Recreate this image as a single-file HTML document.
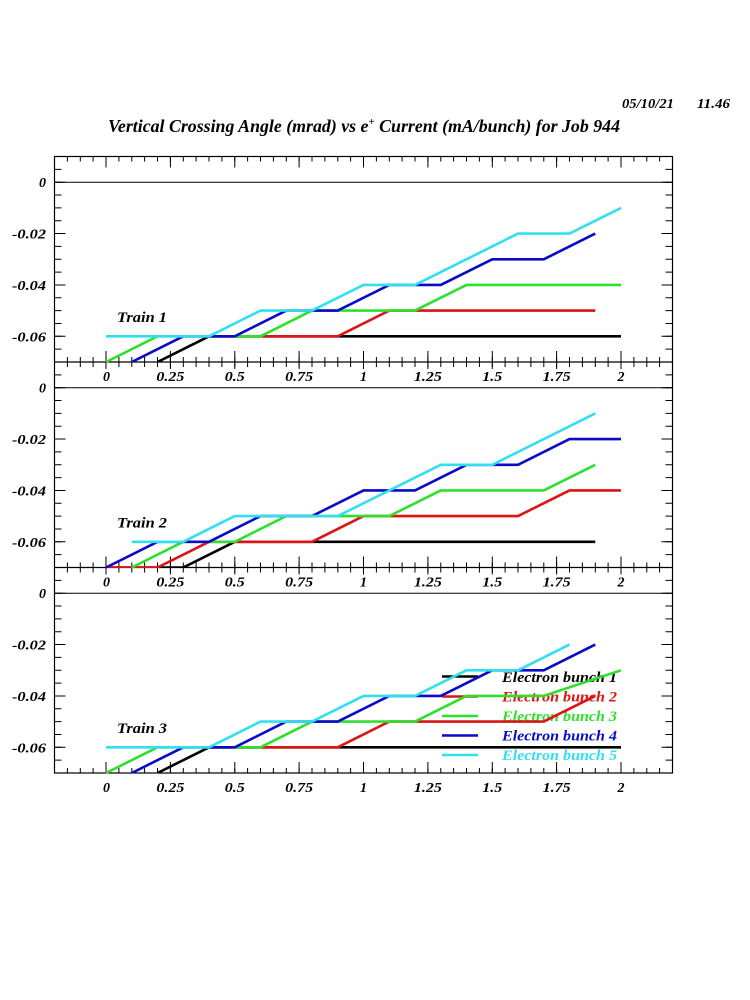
<!DOCTYPE html>
<html>
<head>
<meta charset="utf-8">
<style>
  html,body{margin:0;padding:0;background:#fff;}
  svg{display:block;}
  text{font-family:"Liberation Serif","DejaVu Serif",serif;font-weight:bold;font-style:italic;}
</style>
</head>
<body>
<svg width="750" height="1000" viewBox="0 0 750 1000" xmlns="http://www.w3.org/2000/svg">
<rect x="0" y="0" width="750" height="1000" fill="#fff"/>
<defs>
  <path id="xmin" stroke="#000" stroke-width="1" fill="none" d="M67.4 0V1M80.3 0V1M93.1 0V1M106 0V1M118.9 0V1M131.8 0V1M144.6 0V1M157.5 0V1M170.4 0V1M183.3 0V1M196.1 0V1M209 0V1M221.9 0V1M234.8 0V1M247.6 0V1M260.5 0V1M273.4 0V1M286.3 0V1M299.1 0V1M312 0V1M324.9 0V1M337.8 0V1M350.6 0V1M363.5 0V1M376.4 0V1M389.3 0V1M402.1 0V1M415 0V1M427.9 0V1M440.8 0V1M453.6 0V1M466.5 0V1M479.4 0V1M492.3 0V1M505.1 0V1M518 0V1M530.9 0V1M543.8 0V1M556.6 0V1M569.5 0V1M582.4 0V1M595.3 0V1M608.1 0V1M621 0V1M633.9 0V1M646.8 0V1M659.6 0V1"/>
  <path id="xmaj" stroke="#000" stroke-width="1" fill="none" d="M106 0V1M170.4 0V1M234.8 0V1M299.1 0V1M363.5 0V1M427.9 0V1M492.3 0V1M556.6 0V1M621 0V1"/>
  <path id="ymin" stroke="#000" stroke-width="1" fill="none" d="M0 12.84H1M0 25.69H1M0 38.53H1M0 51.38H1M0 64.22H1M0 77.06H1M0 89.91H1M0 102.75H1M0 115.59H1M0 128.44H1M0 141.28H1M0 154.13H1M0 166.97H1M0 179.81H1M0 192.66H1"/>
  <path id="ymaj" stroke="#000" stroke-width="1" fill="none" d="M0 25.69H1M0 77.06H1M0 128.44H1M0 179.81H1"/>
  <clipPath id="c1"><rect x="54.5" y="156.5" width="618" height="206"/></clipPath>
  <clipPath id="c2"><rect x="54.5" y="362" width="618" height="206"/></clipPath>
  <clipPath id="c3"><rect x="54.5" y="567.5" width="618" height="206"/></clipPath>
</defs>

<!-- header -->
<text x="622" y="108" font-size="14" textLength="52" lengthAdjust="spacingAndGlyphs">05/10/21</text>
<text x="730" y="108" font-size="14" text-anchor="end" textLength="33" lengthAdjust="spacingAndGlyphs">11.46</text>
<text x="108" y="132" font-size="18" textLength="512" lengthAdjust="spacingAndGlyphs">Vertical Crossing Angle (mrad) vs e<tspan dy="-7" font-size="11">+</tspan><tspan dy="7"> Current (mA/bunch) for Job 944</tspan></text>

<!-- frames -->
<rect x="54.5" y="156.5" width="618" height="616.5" fill="none" stroke="#000" stroke-width="1.2"/>
<line x1="54.5" y1="362" x2="672.5" y2="362" stroke="#000" stroke-width="1.2"/>
<line x1="54.5" y1="567.5" x2="672.5" y2="567.5" stroke="#000" stroke-width="1.2"/>

<!-- zero lines -->
<line x1="54.5" y1="182.2" x2="672.5" y2="182.2" stroke="#000" stroke-width="1"/>
<line x1="54.5" y1="387.7" x2="672.5" y2="387.7" stroke="#000" stroke-width="1"/>
<line x1="54.5" y1="593.2" x2="672.5" y2="593.2" stroke="#000" stroke-width="1"/>

<!-- x ticks -->
<use href="#xmin" transform="translate(0,156.5) scale(1,5)"/>
<use href="#xmaj" transform="translate(0,156.5) scale(1,11)"/>
<use href="#xmin" transform="translate(0,357) scale(1,10)"/>
<use href="#xmaj" transform="translate(0,351) scale(1,18)"/>
<use href="#xmin" transform="translate(0,562.5) scale(1,10)"/>
<use href="#xmaj" transform="translate(0,556.5) scale(1,18)"/>
<use href="#xmin" transform="translate(0,768) scale(1,5)"/>
<use href="#xmaj" transform="translate(0,762) scale(1,11)"/>

<!-- y ticks -->
<use href="#ymin" transform="translate(54.5,156.5) scale(7,1)"/>
<use href="#ymaj" transform="translate(54.5,156.5) scale(11,1)"/>
<use href="#ymin" transform="translate(672.5,156.5) scale(-7,1)"/>
<use href="#ymaj" transform="translate(672.5,156.5) scale(-11,1)"/>
<use href="#ymin" transform="translate(54.5,362) scale(7,1)"/>
<use href="#ymaj" transform="translate(54.5,362) scale(11,1)"/>
<use href="#ymin" transform="translate(672.5,362) scale(-7,1)"/>
<use href="#ymaj" transform="translate(672.5,362) scale(-11,1)"/>
<use href="#ymin" transform="translate(54.5,567.5) scale(7,1)"/>
<use href="#ymaj" transform="translate(54.5,567.5) scale(11,1)"/>
<use href="#ymin" transform="translate(672.5,567.5) scale(-7,1)"/>
<use href="#ymaj" transform="translate(672.5,567.5) scale(-11,1)"/>

<!-- y labels -->
<g font-size="14" text-anchor="end">
  <text x="46" y="187.2">0</text>
  <text x="46" y="238.6" textLength="34" lengthAdjust="spacingAndGlyphs">-0.02</text>
  <text x="46" y="289.9" textLength="34" lengthAdjust="spacingAndGlyphs">-0.04</text>
  <text x="46" y="341.3" textLength="34" lengthAdjust="spacingAndGlyphs">-0.06</text>
  <text x="46" y="392.7">0</text>
  <text x="46" y="444.1" textLength="34" lengthAdjust="spacingAndGlyphs">-0.02</text>
  <text x="46" y="495.4" textLength="34" lengthAdjust="spacingAndGlyphs">-0.04</text>
  <text x="46" y="546.8" textLength="34" lengthAdjust="spacingAndGlyphs">-0.06</text>
  <text x="46" y="598.2">0</text>
  <text x="46" y="649.6" textLength="34" lengthAdjust="spacingAndGlyphs">-0.02</text>
  <text x="46" y="700.9" textLength="34" lengthAdjust="spacingAndGlyphs">-0.04</text>
  <text x="46" y="752.3" textLength="34" lengthAdjust="spacingAndGlyphs">-0.06</text>
</g>

<!-- x labels -->
<g font-size="14" text-anchor="middle">
  <text x="106.5" y="381">0</text>
  <text x="170.4" y="381" textLength="28" lengthAdjust="spacingAndGlyphs">0.25</text>
  <text x="234.8" y="381" textLength="20" lengthAdjust="spacingAndGlyphs">0.5</text>
  <text x="299.1" y="381" textLength="28" lengthAdjust="spacingAndGlyphs">0.75</text>
  <text x="363.5" y="381">1</text>
  <text x="427.9" y="381" textLength="28" lengthAdjust="spacingAndGlyphs">1.25</text>
  <text x="492.3" y="381" textLength="20" lengthAdjust="spacingAndGlyphs">1.5</text>
  <text x="556.6" y="381" textLength="28" lengthAdjust="spacingAndGlyphs">1.75</text>
  <text x="621" y="381">2</text>

  <text x="106.5" y="586.5">0</text>
  <text x="170.4" y="586.5" textLength="28" lengthAdjust="spacingAndGlyphs">0.25</text>
  <text x="234.8" y="586.5" textLength="20" lengthAdjust="spacingAndGlyphs">0.5</text>
  <text x="299.1" y="586.5" textLength="28" lengthAdjust="spacingAndGlyphs">0.75</text>
  <text x="363.5" y="586.5">1</text>
  <text x="427.9" y="586.5" textLength="28" lengthAdjust="spacingAndGlyphs">1.25</text>
  <text x="492.3" y="586.5" textLength="20" lengthAdjust="spacingAndGlyphs">1.5</text>
  <text x="556.6" y="586.5" textLength="28" lengthAdjust="spacingAndGlyphs">1.75</text>
  <text x="621" y="586.5">2</text>

  <text x="106.5" y="792">0</text>
  <text x="170.4" y="792" textLength="28" lengthAdjust="spacingAndGlyphs">0.25</text>
  <text x="234.8" y="792" textLength="20" lengthAdjust="spacingAndGlyphs">0.5</text>
  <text x="299.1" y="792" textLength="28" lengthAdjust="spacingAndGlyphs">0.75</text>
  <text x="363.5" y="792">1</text>
  <text x="427.9" y="792" textLength="28" lengthAdjust="spacingAndGlyphs">1.25</text>
  <text x="492.3" y="792" textLength="20" lengthAdjust="spacingAndGlyphs">1.5</text>
  <text x="556.6" y="792" textLength="28" lengthAdjust="spacingAndGlyphs">1.75</text>
  <text x="621" y="792">2</text>
</g>

<!-- train labels -->
<g font-size="15">
  <text x="117" y="322" textLength="50" lengthAdjust="spacingAndGlyphs">Train 1</text>
  <text x="117" y="527.5" textLength="50" lengthAdjust="spacingAndGlyphs">Train 2</text>
  <text x="117" y="733" textLength="50" lengthAdjust="spacingAndGlyphs">Train 3</text>
</g>

<!-- legend -->
<g stroke-width="2.6">
  <line x1="442" y1="676.5" x2="478" y2="676.5" stroke="#000"/>
  <line x1="442" y1="696.5" x2="478" y2="696.5" stroke="#dc1414"/>
  <line x1="442" y1="716" x2="478" y2="716" stroke="#2ee02e"/>
  <line x1="442" y1="735.5" x2="478" y2="735.5" stroke="#0a0ac8"/>
  <line x1="442" y1="755" x2="478" y2="755" stroke="#30e0f0"/>
</g>
<g font-size="15">
  <text x="502" y="682" fill="#000" textLength="115" lengthAdjust="spacingAndGlyphs">Electron bunch 1</text>
  <text x="502" y="701.5" fill="#dc1414" textLength="115" lengthAdjust="spacingAndGlyphs">Electron bunch 2</text>
  <text x="502" y="721" fill="#2ee02e" textLength="115" lengthAdjust="spacingAndGlyphs">Electron bunch 3</text>
  <text x="502" y="740.5" fill="#0a0ac8" textLength="115" lengthAdjust="spacingAndGlyphs">Electron bunch 4</text>
  <text x="502" y="760" fill="#30e0f0" textLength="115" lengthAdjust="spacingAndGlyphs">Electron bunch 5</text>
</g>

<!-- panel 1 data -->
<g clip-path="url(#c1)" fill="none" stroke-width="2.6" stroke-linejoin="round">
  <polyline stroke="#000" points="157.5,362 209,336.3 621,336.3"/>
  <polyline stroke="#dc1414" points="209,336.3 337.75,336.3 389.25,310.6 595.25,310.6"/>
  <polyline stroke="#2ee02e" points="106,362 157.5,336.3 260.5,336.3 312,310.6 415,310.6 466.5,284.9 621,284.9"/>
  <polyline stroke="#0a0ac8" points="131.75,362 183.25,336.3 234.75,336.3 286.25,310.6 337.75,310.6 389.25,284.9 440.75,284.9 492.25,259.3 543.75,259.3 595.25,233.6"/>
  <polyline stroke="#30e0f0" points="106,336.3 209,336.3 260.5,310.6 312,310.6 363.5,284.9 415,284.9 518,233.6 569.5,233.6 621,207.9"/>
</g>

<!-- panel 2 data -->
<g clip-path="url(#c2)" fill="none" stroke-width="2.6" stroke-linejoin="round">
  <polyline stroke="#000" points="106,567.5 183.25,567.5 234.75,541.8 595.25,541.8"/>
  <polyline stroke="#dc1414" points="106,567.5 157.5,567.5 209,541.8 312,541.8 363.5,516.1 518,516.1 569.5,490.4 621,490.4"/>
  <polyline stroke="#2ee02e" points="131.75,567.5 183.25,541.8 234.75,541.8 286.25,516.1 389.25,516.1 440.75,490.4 543.75,490.4 595.25,464.8"/>
  <polyline stroke="#0a0ac8" points="106,567.5 157.5,541.8 209,541.8 260.5,516.1 312,516.1 363.5,490.4 415,490.4 466.5,464.8 518,464.8 569.5,439.1 621,439.1"/>
  <polyline stroke="#30e0f0" points="131.75,541.8 183.25,541.8 234.75,516.1 337.75,516.1 440.75,464.8 492.25,464.8 595.25,413.4"/>
</g>

<!-- panel 3 data -->
<g clip-path="url(#c3)" fill="none" stroke-width="2.6" stroke-linejoin="round">
  <polyline stroke="#000" points="157.5,773 209,747.3 621,747.3"/>
  <polyline stroke="#dc1414" points="209,747.3 337.75,747.3 389.25,721.6 543.75,721.6 595.25,695.9"/>
  <polyline stroke="#2ee02e" points="106,773 157.5,747.3 260.5,747.3 312,721.6 415,721.6 466.5,695.9 543.75,695.9 621,670.3"/>
  <polyline stroke="#0a0ac8" points="131.75,773 183.25,747.3 234.75,747.3 286.25,721.6 337.75,721.6 389.25,695.9 440.75,695.9 492.25,670.3 543.75,670.3 595.25,644.6"/>
  <polyline stroke="#30e0f0" points="106,747.3 209,747.3 260.5,721.6 312,721.6 363.5,695.9 415,695.9 466.5,670.3 518,670.3 569.5,644.6"/>
</g>
</svg>
</body>
</html>
